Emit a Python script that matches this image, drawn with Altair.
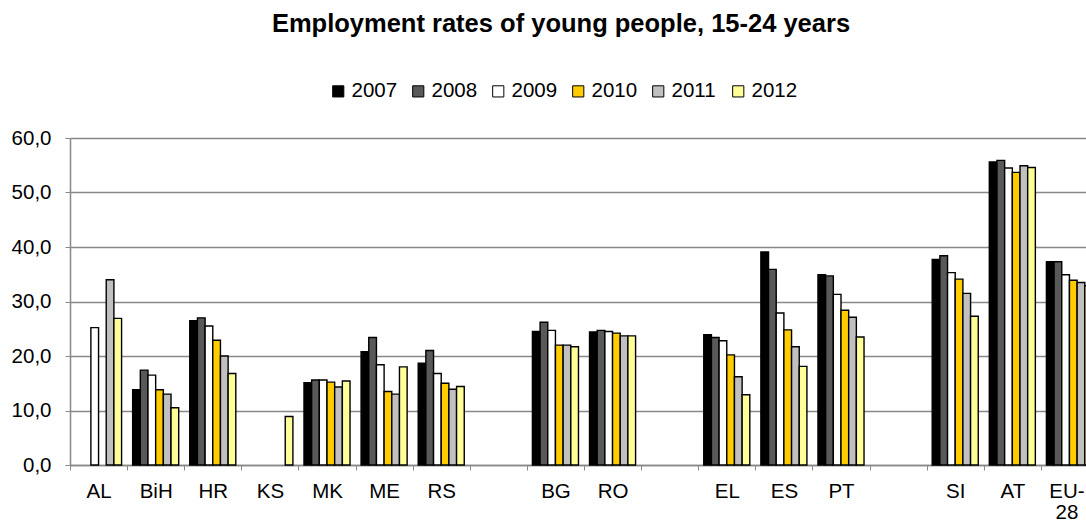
import altair as alt
import pandas as pd

countries = ["AL", "BiH", "HR", "KS", "MK", "ME", "RS", "gap1", "BG", "RO",
             "gap2", "EL", "ES", "PT", "gap3", "SI", "AT", "EU-28"]
years = ["2007", "2008", "2009", "2010", "2011", "2012"]
colors = ["#000000", "#595959", "#FFFFFF", "#FFCC00", "#C0C0C0", "#FFFF99"]

AL = [None, None, 25.2, None, 34.0, 26.9]
BiH = [13.8, 17.4, 16.5, 13.8, 13.0, 10.5]
HR = [26.5, 27.0, 25.5, 22.9, 20.0, 16.8]
KS = [None, None, None, None, None, 8.9]
MK = [15.1, 15.6, 15.6, 15.2, 14.3, 15.4]
ME = [20.8, 23.4, 18.4, 13.5, 13.0, 18.0]
RS = [18.7, 21.0, 16.8, 15.0, 13.9, 14.4]
BG = [24.5, 26.2, 24.7, 22.0, 22.0, 21.7]
RO = [24.4, 24.7, 24.5, 24.2, 23.7, 23.7]
EL = [23.9, 23.4, 22.8, 20.2, 16.2, 12.9]
ES = [39.1, 35.9, 27.9, 24.8, 21.7, 18.1]
PT = [34.9, 34.7, 31.3, 28.4, 27.1, 23.5]
SI = [37.7, 38.4, 35.3, 34.1, 31.5, 27.3]
AT = [55.6, 55.9, 54.5, 53.7, 54.9, 54.6]
EU28 = [37.3, 37.3, 34.9, 33.9, 33.5, 32.9]

series = {"AL": AL, "BiH": BiH, "HR": HR, "KS": KS, "MK": MK, "ME": ME, "RS": RS,
          "BG": BG, "RO": RO, "EL": EL, "ES": ES, "PT": PT, "SI": SI, "AT": AT,
          "EU-28": EU28}

rows = []
for c, vals in series.items():
    for y, v in zip(years, vals):
        if v is not None:
            rows.append({"country": c, "year": y, "value": v})
df = pd.DataFrame(rows)

FONT = "Liberation Sans"
GRID = "#888888"
LBL = 20.5

chart = alt.Chart(df).mark_bar(stroke="black", strokeWidth=1.4).encode(
    x=alt.X("country:N",
            scale=alt.Scale(domain=countries, paddingInner=0, paddingOuter=0, range=[0, 1028]),
            axis=alt.Axis(title=None, labelAngle=0, tickBand="extent", grid=False,
                          labelExpr="datum.label == 'EU-28' ? ['EU-', '28'] : (indexof(datum.label, 'gap') == 0 ? '' : datum.label)",
                          labelFontSize=LBL, labelFont=FONT, labelColor="black",
                          labelLineHeight=21,
                          labelOffset={"condition": {"test": "datum.label == 'EU-28'", "value": -3}, "value": 0},
                          tickSize=5, tickColor=GRID, domainColor=GRID, domainWidth=1.5,
                          labelPadding=11)),
    xOffset=alt.XOffset("year:N", scale=alt.Scale(domain=years, paddingOuter=0.72, paddingInner=0)),
    y=alt.Y("value:Q", scale=alt.Scale(domain=[0, 60]),
            axis=alt.Axis(title=None, values=[0, 10, 20, 30, 40, 50, 60], format=".1f",
                          labelFontSize=LBL, labelFont=FONT, labelColor="black",
                          grid=True, gridColor=GRID, gridWidth=1.4,
                          tickSize=5, tickColor=GRID, domainColor=GRID, domainWidth=1.5,
                          labelPadding=14)),
    color=alt.Color("year:N", scale=alt.Scale(domain=years, range=colors),
                    legend=alt.Legend(title=None, orient="none", legendX=258, legendY=-57,
                                      direction="horizontal", symbolType="square",
                                      symbolSize=125, symbolStrokeColor="black",
                                      symbolStrokeWidth=1, labelFontSize=LBL, labelFont=FONT,
                                      labelColor="black", labelOffset=3, columnPadding=10,
                                      gridAlign="all", padding=0)),
).properties(
    width=1016,
    height=327,
    autosize=alt.AutoSizeParams(type="none"),
    padding={"left": 70, "top": 138, "right": 0, "bottom": 59},
    title=alt.TitleParams("Employment rates of young people, 15-24 years",
                          font=FONT, fontSize=25.5, fontWeight="bold", anchor="middle",
                          dx=-17, offset=10, dy=-34, color="black"),
).configure_view(stroke=None).configure(background="white")

chart.save("out.html", embed_options={
    "renderer": "svg", "actions": False,
    "formatLocale": {"decimal": ",", "thousands": ".", "grouping": [3], "currency": ["", " €"]},
})
